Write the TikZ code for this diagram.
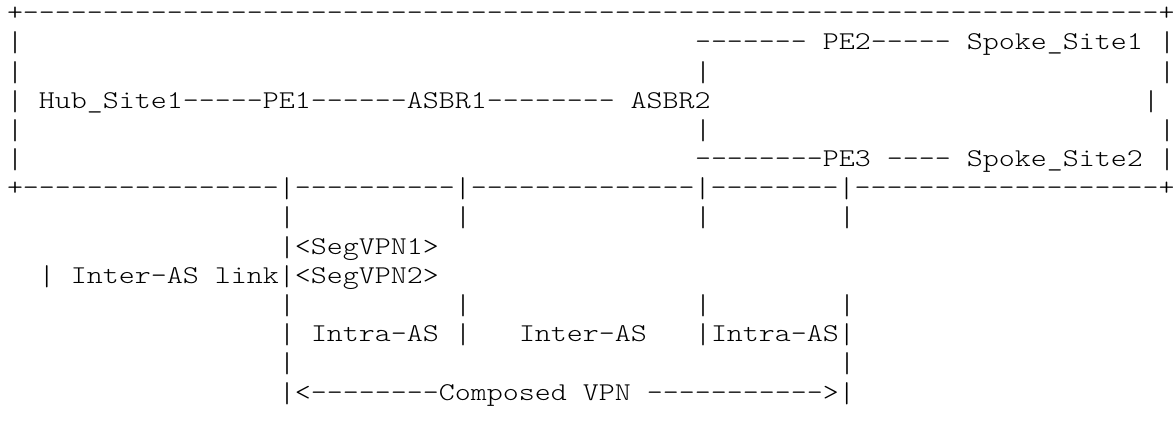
\documentclass[tikz,border=0pt]{standalone}
\usepackage{graphicx}
\usepackage{fontspec}
\setmonofont{lmmonolt10-regular.otf}[FakeStretch=1.19]
\tikzset{
  txt/.style={anchor=base west, inner sep=0pt, outer sep=0pt,
    font=\ttfamily\fontsize{12.8pt}{16pt}\selectfont, text=black},
}
% the bar character, drawn a little taller as in the reference font
\newcommand{\vb}{\raisebox{-1pt}{\scalebox{1}[1.12]{|}}}
% place text: name, row, column, text
\newcommand{\At}[4]{\node[txt] (#1) at ({7+16*#3},{-(20.8+29.17*#2)}) {#4};}
\begin{document}
\begin{tikzpicture}[x=0.5pt,y=0.5pt]
\useasboundingbox (0,0) rectangle (1173,-437);
% row 0: top frame
\At{topframe}{0}{0}{+-----------------------------------------------------------------------+}
% row 1
\At{l1}{1}{0}{\vb}
\At{pe2line}{1}{43}{------- PE2----- Spoke\_Site1}
\At{r1}{1}{72}{\vb}
% row 2
\At{l2}{2}{0}{\vb}
\At{m2}{2}{43}{\vb}
\At{r2}{2}{72}{\vb}
% row 3
\At{l3}{3}{0}{\vb}
\At{hubline}{3}{2}{Hub\_Site1-----PE1------ASBR1-------- ASBR2}
\At{r3}{3}{71}{\vb}
% row 4
\At{l4}{4}{0}{\vb}
\At{m4}{4}{43}{\vb}
\At{r4}{4}{72}{\vb}
% row 5
\At{l5}{5}{0}{\vb}
\At{pe3line}{5}{43}{--------PE3 ---- Spoke\_Site2}
\At{r5}{5}{72}{\vb}
% row 6: bottom frame
\At{botframe}{6}{0}{+----------------\vb----------\vb--------------\vb--------\vb-------------------+}
% row 7
\At{a7}{7}{17}{\vb}
\At{b7}{7}{28}{\vb}
\At{c7}{7}{43}{\vb}
\At{d7}{7}{52}{\vb}
% row 8
\At{seg1}{8}{17}{\vb<SegVPN1>}
% row 9
\At{seg2}{9}{2}{\vb{} Inter-AS link\vb<SegVPN2>}
% row 10
\At{a10}{10}{17}{\vb}
\At{b10}{10}{28}{\vb}
\At{c10}{10}{43}{\vb}
\At{d10}{10}{52}{\vb}
% row 11
\At{a11}{11}{17}{\vb}
\At{intra1}{11}{19}{Intra-AS}
\At{b11}{11}{28}{\vb}
\At{inter}{11}{32}{Inter-AS}
\At{intra2}{11}{43}{\vb Intra-AS\vb}
% row 12
\At{a12}{12}{17}{\vb}
\At{d12}{12}{52}{\vb}
% row 13
\At{composed}{13}{17}{\vb<--------Composed VPN ----------->\vb}
\end{tikzpicture}
\end{document}
